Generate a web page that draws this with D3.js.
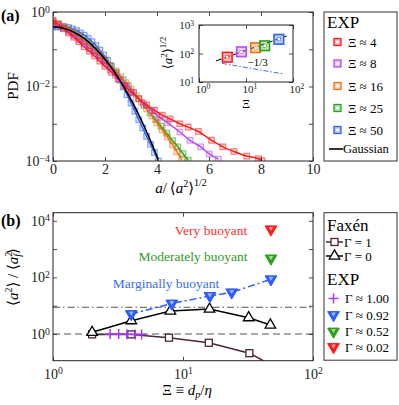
<!DOCTYPE html>
<html>
<head>
<meta charset="utf-8">
<script src="https://cdn.jsdelivr.net/npm/d3@7"></script>
<style>
  body { margin: 0; background: #fff; }
  svg { display: block; font-family: "Liberation Serif", "DejaVu Serif", serif; }
</style>
</head>
<body>
<svg id="fig" width="399" height="405"></svg>
<script>
// ---- panel (a): PDF of normalised acceleration ----
const xi4X   = [0, 0.2, 0.4, 0.6, 0.8, 1.0, 1.2, 1.4, 1.6, 1.8, 2.0, 2.25, 2.5, 2.75, 3.0, 3.3, 3.6, 3.9, 4.2, 4.5, 4.88, 5.2, 5.59, 6.1, 6.53, 6.96, 7.45, 7.9, 8.03];
const xi4Pdf = [0.60, 0.47, 0.355, 0.275, 0.21, 0.16, 0.117, 0.089, 0.066, 0.048, 0.035, 0.024, 0.016, 0.0105, 0.0071, 0.0047, 0.0032, 0.0023, 0.0017, 0.00135, 0.001, 0.00081, 0.00062, 0.00036, 0.00024, 0.00018, 0.000135, 0.000115, 0.000102];

const xi8X   = [0, 0.2, 0.4, 0.6, 0.8, 1.0, 1.2, 1.4, 1.6, 1.8, 2.0, 2.2, 2.4, 2.6, 2.83, 3.1, 3.47, 3.8, 4.1, 4.4, 4.88, 5.27, 5.68, 6.01, 6.36];
const xi8Pdf = [0.50, 0.437, 0.37, 0.30, 0.234, 0.18, 0.138, 0.105, 0.078, 0.0575, 0.042, 0.0275, 0.020, 0.0145, 0.0105, 0.0066, 0.00355, 0.00224, 0.0015, 0.00107, 0.0006, 0.00036, 0.00024, 0.000155, 0.000112];

const xi16X   = [0, 0.2, 0.4, 0.6, 0.8, 1.0, 1.2, 1.4, 1.6, 1.8, 2.0, 2.2, 2.4, 2.6, 2.8, 3.0, 3.2, 3.4, 3.6, 3.8, 4.0, 4.2, 4.4, 4.6, 4.76, 4.95];
const xi16Pdf = [0.55, 0.49, 0.417, 0.347, 0.282, 0.224, 0.174, 0.132, 0.0977, 0.0724, 0.0525, 0.0372, 0.0263, 0.0182, 0.0126, 0.0085, 0.00575, 0.0038, 0.00251, 0.00162, 0.00105, 0.00068, 0.00044, 0.00027, 0.000178, 0.000107];

const xi25X   = [0, 0.2, 0.4, 0.6, 0.8, 1.0, 1.2, 1.4, 1.6, 1.8, 2.0, 2.2, 2.45, 2.7, 2.9, 3.1, 3.3, 3.5, 3.73, 3.95, 4.15, 4.37, 4.6, 4.8, 5.0, 5.2];
const xi25Pdf = [0.537, 0.468, 0.398, 0.331, 0.269, 0.214, 0.166, 0.126, 0.093, 0.0676, 0.049, 0.0355, 0.024, 0.0151, 0.0105, 0.0069, 0.0047, 0.0031, 0.00195, 0.00129, 0.00087, 0.00056, 0.00035, 0.00024, 0.000158, 0.000105];

const xi50X   = [0, 0.15, 0.3, 0.45, 0.6, 0.75, 0.9, 1.05, 1.2, 1.35, 1.5, 1.65, 1.8, 1.95, 2.1, 2.25, 2.4, 2.55, 2.7, 2.85, 3.0, 3.15, 3.3, 3.45, 3.6, 3.75, 3.9, 4.05];
const xi50Pdf = [0.40, 0.40, 0.40, 0.395, 0.38, 0.35, 0.315, 0.276, 0.239, 0.197, 0.159, 0.126, 0.0948, 0.07, 0.0505, 0.0348, 0.0234, 0.0154, 0.0097, 0.006, 0.0036, 0.00217, 0.00128, 0.00077, 0.00046, 0.00028, 0.000169, 0.0001];

const gaussX   = [0, 0.25, 0.5, 0.75, 1.0, 1.25, 1.5, 1.75, 2.0, 2.25, 2.5, 2.75, 3.0, 3.25, 3.5, 3.75, 4.0, 4.05];
const gaussPdf = [0.399, 0.387, 0.352, 0.301, 0.242, 0.183, 0.1295, 0.0863, 0.054, 0.0317, 0.0175, 0.0091, 0.00443, 0.00203, 0.00087, 0.00035, 0.000134, 0.000109];

// inset: rms acceleration vs Xi
const insetXi  = [4, 8, 16, 25, 50];
const insetRms = [74, 115, 160, 187, 315];
const fitXi    = [2.3, 73.5];
const fitRms   = [55, 411];
const slopeXi  = [3.1, 64.5];
const slopeRms = [45, 19];

const expLabels = ["Ξ ≈ 4", "Ξ ≈ 8", "Ξ ≈ 16", "Ξ ≈ 25", "Ξ ≈ 50"];
const expColors = ["#ff1a1a", "#b44ef0", "#e8741c", "#2ca21c", "#2a62f6"];

// ---- panel (b): acceleration variance ratio ----
const faxen1Xi  = [2, 4, 7.8, 15.8, 32.4, 50];
const faxen1Val = [0.97, 0.97, 0.74, 0.49, 0.21, 0.072];
const faxen0Xi  = [2, 4, 8, 16, 32, 47];
const faxen0Val = [1.15, 2.95, 6.5, 7.6, 3.77, 2.08];
const g100Xi  = [2.75, 3.2, 3.7, 4.3, 4.8];
const g100Val = [1.0, 1.0, 0.98, 0.97, 0.97];
const g092Xi  = [4, 8.2, 16.1, 23.7, 47.5];
const g092Val = [5.1, 12, 22, 29.7, 86];
const g052Xi  = [47.5];
const g052Val = [470];
const g002Xi  = [47.5];
const g002Val = [5000];
const refLevels = [1, 8.8];

const svg = d3.select("#fig");

function powLabels(g, show, dx) {
    g.selectAll(".tick text").each(function(d) {
        const e = Math.round(Math.log10(d));
        const t = d3.select(this).text(null);
        if (dx) t.attr("dx", dx);
        if (!show(e)) return;
        t.append("tspan").text("10");
        t.append("tspan").attr("dy", "-0.45em").attr("font-size", "0.7em").text(e < 0 ? "\u2212" + (-e) : e);
    });
}

function styleAxis(g, size) {
    g.attr("font-family", null).attr("font-size", size).attr("color", "#222");
    g.select(".domain").remove();
    g.selectAll(".tick line").attr("stroke-width", 0.8);
}

function drawFrame(g, x, y) {
    const [x0, x1] = x.range(), [y0, y1] = y.range();
    g.append("rect").attr("x", x0).attr("y", y1).attr("width", x1 - x0).attr("height", y0 - y1)
        .attr("fill", "none").attr("stroke", "#222").attr("stroke-width", 1);
}

function axes(g, x, y, xTicks, yTicks, size, xFmt, yFmt, pad) {
    const [x0, x1] = x.range(), [y0, y1] = y.range();
    g.append("g").attr("transform", `translate(0,${y0})`)
        .call(d3.axisBottom(x).tickValues(xTicks).tickSizeInner(-4).tickSizeOuter(0).tickPadding(pad[0]))
        .call(a => styleAxis(a, size)).call(xFmt);
    g.append("g").attr("transform", `translate(0,${y1})`)
        .call(d3.axisTop(x).tickValues(xTicks).tickSizeInner(-4).tickSizeOuter(0).tickFormat(""))
        .call(a => styleAxis(a, size));
    g.append("g").attr("transform", `translate(${x0},0)`)
        .call(d3.axisLeft(y).tickValues(yTicks).tickSizeInner(-4).tickSizeOuter(0).tickPadding(pad[1]))
        .call(a => styleAxis(a, size)).call(yFmt);
    g.append("g").attr("transform", `translate(${x1},0)`)
        .call(d3.axisRight(y).tickValues(yTicks).tickSizeInner(-4).tickSizeOuter(0).tickFormat(""))
        .call(a => styleAxis(a, size));
}

// ================= panel (a) =================
const pdfX = d3.scaleLinear().domain([0, 10]).range([53, 313]);
const pdfY = d3.scaleLog().domain([1e-4, 1]).range([161, 12]);

const pa = svg.append("g");
pa.append("clipPath").attr("id", "clipA").append("rect")
    .attr("x", 53).attr("y", 12).attr("width", 260).attr("height", 149);

const series = [
    { x: xi50X, y: xi50Pdf, c: expColors[4] },
    { x: xi25X, y: xi25Pdf, c: expColors[3] },
    { x: xi16X, y: xi16Pdf, c: expColors[2] },
    { x: xi8X,  y: xi8Pdf,  c: expColors[1] },
    { x: xi4X,  y: xi4Pdf,  c: expColors[0] }
];

const pdfLine = d3.line().x(d => pdfX(d[0])).y(d => pdfY(d[1])).curve(d3.curveMonotoneX);
const curves = pa.append("g").attr("clip-path", "url(#clipA)");

series.forEach(s => {
    const pts = s.x.map((v, i) => [v, s.y[i]]);
    curves.append("g").selectAll("rect").data(pts).join("rect")
        .attr("x", d => pdfX(d[0]) - 2.8).attr("y", d => pdfY(d[1]) - 2.8)
        .attr("width", 5.6).attr("height", 5.6)
        .attr("fill", s.c).attr("fill-opacity", 0.15)
        .attr("stroke", s.c).attr("stroke-opacity", 0.55).attr("stroke-width", 1.2);
    curves.append("path").datum(pts).attr("d", pdfLine)
        .attr("fill", "none").attr("stroke", s.c).attr("stroke-width", 1.5);
});

curves.append("path").datum(gaussX.map((v, i) => [v, gaussPdf[i]]))
    .attr("d", pdfLine).attr("fill", "none").attr("stroke", "#000").attr("stroke-width", 1.6);

axes(pa, pdfX, pdfY, [0, 2, 4, 6, 8, 10], [1e-4, 1e-3, 1e-2, 1e-1, 1], 14,
    g => {}, g => powLabels(g, e => e % 2 === 0), [3, 3]);
drawFrame(pa, pdfX, pdfY);

pa.append("text").attr("x", 1).attr("y", 21).attr("font-weight", "bold").attr("font-size", 16).text("(a)");
pa.append("text").attr("transform", "translate(18,86) rotate(-90)").attr("text-anchor", "middle")
    .attr("font-size", 15).text("PDF");

const xla = pa.append("text").attr("x", 181).attr("y", 193).attr("text-anchor", "middle").attr("font-size", 15);
xla.append("tspan").attr("font-style", "italic").text("a");
xla.append("tspan").text("/\u2009\u27E8");
xla.append("tspan").attr("font-style", "italic").text("a");
xla.append("tspan").attr("dy", -6).attr("font-size", 10).text("2");
xla.append("tspan").attr("dy", 6).text("\u27E9");
xla.append("tspan").attr("dy", -7).attr("font-size", 10).text("1/2");

// ---- inset ----
const insX = d3.scaleLog().domain([1, 100]).range([199, 293]);
const insY = d3.scaleLog().domain([10, 1000]).range([82, 25]);
const ins = svg.append("g");
ins.append("rect").attr("x", 199).attr("y", 25).attr("width", 94).attr("height", 57).attr("fill", "#fff");

const insLine = d3.line().x(d => insX(d[0])).y(d => insY(d[1]));
ins.append("path").datum(fitXi.map((v, i) => [v, fitRms[i]])).attr("d", insLine)
    .attr("stroke", "#000").attr("stroke-width", 1).attr("stroke-dasharray", "6,3").attr("fill", "none");
ins.append("path").datum(slopeXi.map((v, i) => [v, slopeRms[i]])).attr("d", insLine)
    .attr("stroke", "#3a72f2").attr("stroke-width", 1).attr("stroke-dasharray", "5,2,1.5,2").attr("fill", "none");

insetXi.forEach((v, i) => {
    const cx = insX(v), cy = insY(insetRms[i]);
    ins.append("rect").attr("x", cx - 4.8).attr("y", cy - 4.8).attr("width", 9.6).attr("height", 9.6)
        .attr("fill", expColors[i]).attr("fill-opacity", 0.3).attr("stroke", expColors[i]).attr("stroke-width", 1.6);
    ins.append("rect").attr("x", cx - 1.5).attr("y", cy - 1.5).attr("width", 3).attr("height", 3)
        .attr("fill", "#fff").attr("stroke", expColors[i]).attr("stroke-width", 0.5);
});
ins.append("text").attr("x", insX(17.7)).attr("y", insY(50) + 4).attr("text-anchor", "middle")
    .attr("font-size", 11).text("\u22121/3");

axes(ins, insX, insY, [1, 10, 100], [10, 100, 1000], 11,
    g => powLabels(g, () => true, 3.5), g => powLabels(g, () => true), [3, 5]);
drawFrame(ins, insX, insY);

ins.append("text").attr("x", 246).attr("y", 108).attr("text-anchor", "middle").attr("font-size", 12).text("Ξ");
const yli = ins.append("text").attr("transform", "translate(172,53) rotate(-90)")
    .attr("text-anchor", "middle").attr("font-size", 13);
yli.append("tspan").text("\u27E8");
yli.append("tspan").attr("font-style", "italic").text("a");
yli.append("tspan").attr("dy", -5).attr("font-size", 9).text("2");
yli.append("tspan").attr("dy", 5).text("\u27E9");
yli.append("tspan").attr("dy", -6).attr("font-size", 9).text("1/2");

// ---- legend (a) ----
const la = svg.append("g");
la.append("rect").attr("x", 324).attr("y", 12).attr("width", 73).attr("height", 149)
    .attr("fill", "#fff").attr("stroke", "#333").attr("stroke-width", 1);
la.append("text").attr("x", 327).attr("y", 28).attr("font-size", 17).text("EXP");
const legRowsA = [42, 63.5, 86, 108, 130];
expLabels.forEach((lbl, i) => {
    const y = legRowsA[i];
    la.append("rect").attr("x", 334).attr("y", y - 3.5).attr("width", 7).attr("height", 7)
        .attr("fill", expColors[i]).attr("fill-opacity", 0.35).attr("stroke", expColors[i]).attr("stroke-width", 1.3);
    la.append("rect").attr("x", 336.3).attr("y", y - 1.2).attr("width", 2.4).attr("height", 2.4).attr("fill", "#fff");
    la.append("text").attr("x", 348).attr("y", y + 4.5).attr("font-size", 13).text(lbl);
});
la.append("line").attr("x1", 329).attr("x2", 343).attr("y1", 149).attr("y2", 149)
    .attr("stroke", "#000").attr("stroke-width", 1.6);
la.append("text").attr("x", 343).attr("y", 153).attr("font-size", 12.5).text("Gaussian");

// ================= panel (b) =================
const rX = d3.scaleLog().domain([1, 100]).range([53, 313]);
const rY = d3.scaleLog().domain([0.114, 19300]).range([360.7, 212.7]);

const pb = svg.append("g");
pb.append("clipPath").attr("id", "clipB").append("rect")
    .attr("x", 53).attr("y", 212.7).attr("width", 260).attr("height", 148);
const plotB = pb.append("g").attr("clip-path", "url(#clipB)");

refLevels.forEach((v, i) => {
    plotB.append("line").attr("x1", 53).attr("x2", 313).attr("y1", rY(v)).attr("y2", rY(v))
        .attr("stroke", "#555").attr("stroke-width", 1)
        .attr("stroke-dasharray", i === 0 ? "7,4" : "7,3,1.5,3");
});

const bLine = d3.line().x(d => rX(d[0])).y(d => rY(d[1]));
const zip = (a, b) => a.map((v, i) => [v, b[i]]);
const triUp = d3.symbol(d3.symbolTriangle, 48)();
const triDown = d3.symbol(d3.symbolTriangle, 60)();
const triInner = d3.symbol(d3.symbolTriangle, 10)();
const plusPath = "M-5,0H5M0,-5V5";

// Faxen, Gamma = 1
const brown = "#4a2632";
plotB.append("path").datum(zip(faxen1Xi, faxen1Val)).attr("d", bLine)
    .attr("fill", "none").attr("stroke", brown).attr("stroke-width", 1.5);
plotB.append("g").selectAll("rect").data(zip(faxen1Xi, faxen1Val)).join("rect")
    .attr("x", d => rX(d[0]) - 3.5).attr("y", d => rY(d[1]) - 3.5).attr("width", 7).attr("height", 7)
    .attr("fill", "#fff").attr("stroke", brown).attr("stroke-width", 1.3);

// EXP, Gamma ~ 1.00
const purple = "#a63cf0";
plotB.append("path").datum(zip(g100Xi, g100Val)).attr("d", bLine)
    .attr("fill", "none").attr("stroke", purple).attr("stroke-width", 1.5);
plotB.append("g").selectAll("path").data(zip(g100Xi, g100Val)).join("path")
    .attr("transform", d => `translate(${rX(d[0])},${rY(d[1])})`).attr("d", plusPath)
    .attr("stroke", purple).attr("stroke-width", 1.5);

// Faxen, Gamma = 0
plotB.append("path").datum(zip(faxen0Xi, faxen0Val)).attr("d", bLine)
    .attr("fill", "none").attr("stroke", "#000").attr("stroke-width", 1.5);
plotB.append("g").selectAll("path").data(zip(faxen0Xi, faxen0Val)).join("path")
    .attr("transform", d => `translate(${rX(d[0])},${rY(d[1])})`).attr("d", triUp)
    .attr("fill", "#fff").attr("stroke", "#000").attr("stroke-width", 1.3);

// EXP down triangles
function downTri(g, x, y, c) {
    g.append("path").attr("transform", `translate(${x},${y}) rotate(180)`).attr("d", triDown)
        .attr("fill", c).attr("stroke", c).attr("stroke-width", 1);
    g.append("path").attr("transform", `translate(${x},${y - 1}) rotate(180)`).attr("d", triInner)
        .attr("fill", "#fff").attr("fill-opacity", 0.55);
}
const blue = "#2a5cff", green = "#2ca21c", red = "#ff1a1a";
plotB.append("path").datum(zip(g092Xi, g092Val)).attr("d", bLine)
    .attr("fill", "none").attr("stroke", blue).attr("stroke-width", 1.5).attr("stroke-dasharray", "7,3,2,3");
g092Xi.forEach((v, i) => downTri(plotB, rX(v), rY(g092Val[i]), blue));
g052Xi.forEach((v, i) => downTri(plotB, rX(v), rY(g052Val[i]), green));
g002Xi.forEach((v, i) => downTri(plotB, rX(v), rY(g002Val[i]), red));

plotB.append("text").attr("x", 211).attr("y", 235).attr("text-anchor", "middle").attr("font-size", 13.5)
    .attr("fill", "#ff3030").text("Very buoyant");
plotB.append("text").attr("x", 193).attr("y", 261).attr("text-anchor", "middle").attr("font-size", 13.5)
    .attr("fill", "#2f9a2a").text("Moderately buoyant");
plotB.append("text").attr("x", 166).attr("y", 288).attr("text-anchor", "middle").attr("font-size", 13.5)
    .attr("fill", "#3b6cff").text("Marginally buoyant");

axes(pb, rX, rY, [1, 10, 100], [1, 10, 100, 1000, 10000], 14,
    g => powLabels(g, () => true), g => powLabels(g, e => e % 2 === 0), [8, 3]);
drawFrame(pb, rX, rY);

pb.append("text").attr("x", 1).attr("y", 226).attr("font-weight", "bold").attr("font-size", 16).text("(b)");

const xlb = pb.append("text").attr("x", 187).attr("y", 395).attr("text-anchor", "middle").attr("font-size", 15);
xlb.append("tspan").text("Ξ ≡ ");
xlb.append("tspan").attr("font-style", "italic").text("d");
xlb.append("tspan").attr("dy", 3).attr("font-size", 10).attr("font-style", "italic").text("p");
xlb.append("tspan").attr("dy", -3).text("/");
xlb.append("tspan").attr("font-style", "italic").text("η");

const ylb = pb.append("text").attr("transform", "translate(18,277) rotate(-90)")
    .attr("text-anchor", "middle").attr("font-size", 15);
ylb.append("tspan").text("\u27E8");
ylb.append("tspan").attr("font-style", "italic").text("a");
ylb.append("tspan").attr("dy", -6).attr("font-size", 10).text("2");
ylb.append("tspan").attr("dy", 6).text("\u27E9 / \u27E8");
ylb.append("tspan").attr("font-style", "italic").text("a");
ylb.append("tspan").attr("dy", -6).attr("font-size", 10).text("2");
ylb.append("tspan").attr("dx", -5).attr("dy", 9).attr("font-size", 10).attr("font-style", "italic").text("f");
ylb.append("tspan").attr("dy", -3).text("\u27E9");

// ---- legend (b) ----
const lb = svg.append("g");
lb.append("rect").attr("x", 324).attr("y", 212.7).attr("width", 73).attr("height", 147.5)
    .attr("fill", "#fff").attr("stroke", "#333").attr("stroke-width", 1);
lb.append("text").attr("x", 327).attr("y", 231).attr("font-size", 17).text("Faxén");

lb.append("line").attr("x1", 326).attr("x2", 343).attr("y1", 242).attr("y2", 242).attr("stroke", brown).attr("stroke-width", 1.5);
lb.append("rect").attr("x", 331).attr("y", 238.5).attr("width", 7).attr("height", 7)
    .attr("fill", "#fff").attr("stroke", brown).attr("stroke-width", 1.3);
lb.append("text").attr("x", 344).attr("y", 246.5).attr("font-size", 13).text("Γ = 1");

lb.append("line").attr("x1", 326).attr("x2", 343).attr("y1", 256).attr("y2", 256).attr("stroke", "#000").attr("stroke-width", 1.5);
lb.append("path").attr("transform", "translate(334.5,256)").attr("d", triUp)
    .attr("fill", "#fff").attr("stroke", "#000").attr("stroke-width", 1.3);
lb.append("text").attr("x", 344).attr("y", 260.5).attr("font-size", 13).text("Γ = 0");

lb.append("text").attr("x", 327).attr("y", 285).attr("font-size", 17).text("EXP");
lb.append("path").attr("transform", "translate(333.5,298.5)").attr("d", plusPath)
    .attr("stroke", purple).attr("stroke-width", 1.5);
lb.append("text").attr("x", 345).attr("y", 303).attr("font-size", 13).text("Γ ≈ 1.00");
[[blue, 315, "Γ ≈ 0.92"], [green, 331.5, "Γ ≈ 0.52"], [red, 347, "Γ ≈ 0.02"]].forEach(([c, y, t]) => {
    downTri(lb, 333.5, y, c);
    lb.append("text").attr("x", 345).attr("y", y + 4.5).attr("font-size", 13).text(t);
});
</script>
</body>
</html>
